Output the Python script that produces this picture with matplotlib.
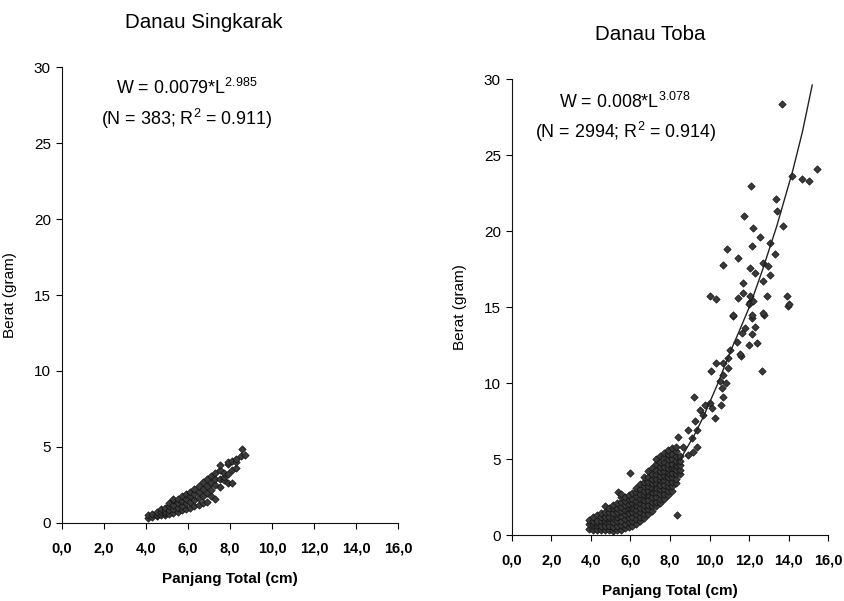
import numpy as np
import matplotlib
matplotlib.use("Agg")
import matplotlib.pyplot as plt

plt.rcParams["font.family"] = ["Liberation Sans", "DejaVu Sans"]
plt.rcParams["mathtext.default"] = "regular"

# =========================
# DATA
# =========================
X_TICKS = [0, 2, 4, 6, 8, 10, 12, 14, 16]
X_TICK_LABELS = ["0,0", "2,0", "4,0", "6,0", "8,0", "10,0", "12,0", "14,0", "16,0"]
Y_TICKS = [0, 5, 10, 15, 20, 25, 30]

# Danau Singkarak: (length cm, weight g)
singkarak_pts = [
    (4.1, 0.35), (4.1, 0.5),
    (4.3, 0.4), (4.3, 0.6),
    (4.5, 0.45), (4.5, 0.55), (4.5, 0.7),
    (4.7, 0.5), (4.7, 0.75), (4.7, 0.9),
    (4.9, 0.5), (4.9, 0.65), (4.9, 0.8), (4.9, 1.0),
    (5.1, 0.6), (5.1, 0.85), (5.1, 1.1), (5.1, 1.3),
    (5.3, 0.65), (5.3, 0.95), (5.3, 1.2), (5.3, 1.5), (5.3, 1.6),
    (5.5, 0.75), (5.5, 1.0), (5.5, 1.3), (5.5, 1.55),
    (5.7, 0.85), (5.7, 1.15), (5.7, 1.45), (5.7, 1.75),
    (5.9, 0.95), (5.9, 1.3), (5.9, 1.6), (5.9, 1.9),
    (6.1, 1.0), (6.1, 1.4), (6.1, 1.75), (6.1, 2.05),
    (6.3, 1.1), (6.3, 1.5), (6.3, 1.9), (6.3, 2.25),
    (6.5, 1.2), (6.5, 1.65), (6.5, 2.05), (6.5, 2.45),
    (6.7, 1.3), (6.7, 1.8), (6.7, 2.25), (6.7, 2.7),
    (6.9, 1.35), (6.9, 1.95), (6.9, 2.45), (6.9, 2.9),
    (7.1, 1.8), (7.1, 2.2), (7.1, 2.6), (7.1, 3.1),
    (7.3, 1.6), (7.3, 2.5), (7.3, 2.9), (7.3, 3.3),
    (7.5, 2.4), (7.5, 2.9), (7.5, 3.5), (7.5, 3.8),
    (7.7, 2.8), (7.7, 3.0), (7.7, 3.3),
    (7.9, 2.6), (7.9, 3.2), (7.9, 3.9), (7.9, 4.0),
    (8.1, 2.6), (8.1, 3.5), (8.1, 4.1),
    (8.3, 3.6), (8.3, 4.0), (8.3, 4.2),
    (8.5, 4.4), (8.55, 4.9),
    (8.7, 4.5),
]

# Danau Toba, dense band of small fish
toba_dense = [
    (3.9, 0.4), (3.9, 0.7), (3.9, 1.0),
    (4.1, 0.35), (4.1, 0.65), (4.1, 0.95), (4.1, 1.2),
    (4.3, 0.35), (4.3, 0.65), (4.3, 0.95), (4.3, 1.3),
    (4.5, 0.3), (4.5, 0.6), (4.5, 0.9), (4.5, 1.2), (4.5, 1.45),
    (4.7, 0.3), (4.7, 0.6), (4.7, 0.9), (4.7, 1.2), (4.7, 1.5), (4.7, 1.9),
    (4.9, 0.3), (4.9, 0.6), (4.9, 0.9), (4.9, 1.2), (4.9, 1.5), (4.9, 1.8),
    (5.1, 0.25), (5.1, 0.55), (5.1, 0.85), (5.1, 1.15), (5.1, 1.45), (5.1, 1.75), (5.1, 2.0),
    (5.3, 0.3), (5.3, 0.6), (5.3, 0.9), (5.3, 1.2), (5.3, 1.5), (5.3, 1.8), (5.3, 2.1), (5.35, 2.85),
    (5.5, 0.35), (5.5, 0.65), (5.5, 0.95), (5.5, 1.25), (5.5, 1.55), (5.5, 1.85), (5.5, 2.15),
    (5.5, 2.5), (5.5, 2.7),
    (5.7, 0.45), (5.7, 0.75), (5.7, 1.05), (5.7, 1.35), (5.7, 1.65), (5.7, 1.95), (5.7, 2.25), (5.7, 2.5),
    (5.9, 0.55), (5.9, 0.85), (5.9, 1.15), (5.9, 1.45), (5.9, 1.75), (5.9, 2.05), (5.9, 2.35), (5.9, 2.6),
    (6.1, 0.6), (6.1, 0.9), (6.1, 1.2), (6.1, 1.5), (6.1, 1.8), (6.1, 2.1), (6.1, 2.4), (6.1, 2.75),
    (6.3, 0.75), (6.3, 1.05), (6.3, 1.35), (6.3, 1.65), (6.3, 1.95), (6.3, 2.25), (6.3, 2.55),
    (6.3, 2.85), (6.3, 3.1),
    (6.5, 0.9), (6.5, 1.2), (6.5, 1.5), (6.5, 1.8), (6.5, 2.1), (6.5, 2.4), (6.5, 2.7),
    (6.5, 3.0), (6.5, 3.35),
    (6.7, 1.1), (6.7, 1.4), (6.7, 1.7), (6.7, 2.0), (6.7, 2.3), (6.7, 2.6), (6.7, 2.9),
    (6.7, 3.2), (6.7, 3.5), (6.7, 3.8),
    (6.9, 1.4), (6.9, 1.7), (6.9, 2.0), (6.9, 2.3), (6.9, 2.6), (6.9, 2.9), (6.9, 3.2),
    (6.9, 3.5), (6.9, 3.8), (6.9, 4.2),
    (7.1, 1.6), (7.1, 1.9), (7.1, 2.2), (7.1, 2.5), (7.1, 2.8), (7.1, 3.1), (7.1, 3.4),
    (7.1, 3.7), (7.1, 4.0), (7.1, 4.4),
    (7.3, 1.9), (7.3, 2.2), (7.3, 2.5), (7.3, 2.8), (7.3, 3.1), (7.3, 3.4), (7.3, 3.7),
    (7.3, 4.0), (7.3, 4.3), (7.3, 4.7), (7.3, 5.0),
    (7.5, 2.1), (7.5, 2.4), (7.5, 2.7), (7.5, 3.0), (7.5, 3.3), (7.5, 3.6), (7.5, 3.9),
    (7.5, 4.2), (7.5, 4.5), (7.5, 4.8), (7.5, 5.2),
    (7.7, 2.4), (7.7, 2.7), (7.7, 3.0), (7.7, 3.3), (7.7, 3.6), (7.7, 3.9), (7.7, 4.2),
    (7.7, 4.5), (7.7, 4.8), (7.7, 5.1), (7.7, 5.4),
    (7.9, 2.6), (7.9, 2.9), (7.9, 3.2), (7.9, 3.5), (7.9, 3.8), (7.9, 4.1), (7.9, 4.4),
    (7.9, 4.7), (7.9, 5.0), (7.9, 5.3), (7.9, 5.6),
    (8.1, 2.9), (8.1, 3.2), (8.1, 3.5), (8.1, 3.8), (8.1, 4.1), (8.1, 4.4), (8.1, 4.7),
    (8.1, 5.0), (8.1, 5.3), (8.1, 5.7),
    (8.3, 3.4), (8.3, 3.7), (8.3, 4.0), (8.3, 4.3), (8.3, 4.6), (8.3, 4.9), (8.3, 5.2),
    (8.3, 5.5), (8.3, 5.8),
    (8.5, 4.0), (8.5, 4.3), (8.5, 4.6), (8.5, 4.9), (8.5, 5.2),
]

# Danau Toba, scattered larger fish
toba_sparse = [
    (5.97, 4.07), (8.34, 1.32), (8.42, 6.48), (8.67, 5.82), (8.93, 5.27), (8.93, 6.92),
    (9.09, 6.37), (9.18, 5.49), (9.23, 9.05), (9.27, 7.47), (9.35, 6.92), (9.35, 5.82),
    (9.52, 8.24), (9.69, 7.9), (9.77, 8.57), (10.03, 8.7), (10.11, 8.35), (10.28, 7.7),
    (10.58, 8.57), (10.7, 9.1), (10.62, 9.67), (10.84, 10.0), (10.53, 10.1), (10.7, 10.55),
    (10.08, 10.8), (10.96, 11.0), (10.33, 11.3), (10.7, 11.3), (10.96, 11.65), (11.6, 11.8),
    (11.54, 11.9), (11.04, 12.2), (12.39, 12.6), (11.98, 12.5), (11.38, 12.7), (12.13, 13.2),
    (11.62, 13.3), (12.3, 13.7), (11.8, 13.6), (12.13, 14.3), (12.77, 14.5), (11.21, 14.4),
    (12.05, 15.3), (13.99, 15.1), (12.68, 10.8), (12.13, 14.5), (12.72, 14.6), (11.2, 14.5),
    (11.98, 15.2), (12.9, 15.7), (14.05, 15.2), (13.91, 15.7), (12.22, 15.4), (11.46, 15.6),
    (12.05, 15.7), (11.71, 15.9), (10.33, 15.5), (10.03, 15.75), (12.72, 16.7), (11.71, 16.6),
    (13.06, 17.1), (12.3, 17.25), (12.05, 17.6), (12.97, 17.7), (12.72, 17.9), (13.32, 18.5),
    (13.06, 19.2), (10.7, 17.75), (11.46, 18.2), (12.13, 19.0), (10.87, 18.8), (12.56, 19.6),
    (13.74, 20.3), (12.22, 20.2), (13.43, 21.3), (11.76, 21.0), (13.35, 22.1), (12.08, 22.96),
    (14.16, 23.6), (15.05, 23.3), (14.67, 23.4), (15.43, 24.1), (13.69, 28.35),
]

# Fitted curve as drawn in the figure (Danau Toba)
toba_curve_len = [3.9, 5.0, 6.0, 7.0, 8.0, 8.6, 9.2, 9.7, 10.4, 11.0, 11.5, 12.05, 12.7, 13.4, 14.2, 14.7, 15.2]
toba_curve_wt = [0.45, 0.95, 1.7, 2.8, 4.2, 5.16, 6.5, 7.8, 9.9, 11.9, 13.4, 15.1, 17.5, 20.3, 23.9, 26.5, 29.6]

singkarak_len, singkarak_wt = np.array(singkarak_pts).T
toba_len = np.concatenate([np.array(toba_dense)[:, 0], np.array(toba_sparse)[:, 0]])
toba_wt = np.concatenate([np.array(toba_dense)[:, 1], np.array(toba_sparse)[:, 1]])

# =========================
# PLOT
# =========================
fig = plt.figure(figsize=(8.45, 6.01), dpi=100)
ax1 = fig.add_axes([0.0734, 0.1298, 0.3976, 0.7587])
ax2 = fig.add_axes([0.6059, 0.1098, 0.3740, 0.7587])

marker_kw = dict(marker="D", s=14, color="#3a3a3a", edgecolors="#111111", linewidths=0.5, zorder=3)

ax1.scatter(singkarak_len, singkarak_wt, **marker_kw)
ax2.scatter(toba_len, toba_wt, **marker_kw)
ax2.plot(toba_curve_len, toba_curve_wt, color="#222222", lw=1.0, zorder=4)

for ax in (ax1, ax2):
    ax.set_xlim(0, 16)
    ax.set_ylim(0, 30)
    ax.spines["top"].set_visible(False)
    ax.spines["right"].set_visible(False)
    ax.spines["left"].set_color("#111111")
    ax.spines["bottom"].set_color("#111111")
    ax.set_xticks(X_TICKS)
    ax.set_xticklabels(X_TICK_LABELS, fontsize=10.5, fontweight="bold")
    ax.set_yticks(Y_TICKS)
    ax.tick_params(axis="y", labelsize=11, length=4, pad=4)
    ax.tick_params(axis="x", length=4, pad=9)
    ax.set_xlabel("Panjang Total (cm)", fontsize=11, fontweight="bold", labelpad=12)
    ax.set_ylabel("Berat (gram)", fontsize=11, labelpad=12)

ax1.text(5.95, 28.6, "W = 0.0079*L$^{2.985}$", ha="center", va="center", fontsize=12.9)
ax1.text(5.95, 26.6, "(N = 383; R$^{2}$ = 0.911)", ha="center", va="center", fontsize=12.9)
ax2.text(5.72, 28.5, "W = 0.008*L$^{3.078}$", ha="center", va="center", fontsize=12.9)
ax2.text(5.77, 26.5, "(N = 2994; R$^{2}$ = 0.914)", ha="center", va="center", fontsize=12.9)

fig.text(204 / 845, 1 - 22 / 601, "Danau Singkarak", ha="center", va="center", fontsize=14.8)
fig.text(650 / 845, 1 - 35 / 601, "Danau Toba", ha="center", va="center", fontsize=14.8)

fig.savefig("out.png", dpi=100)
